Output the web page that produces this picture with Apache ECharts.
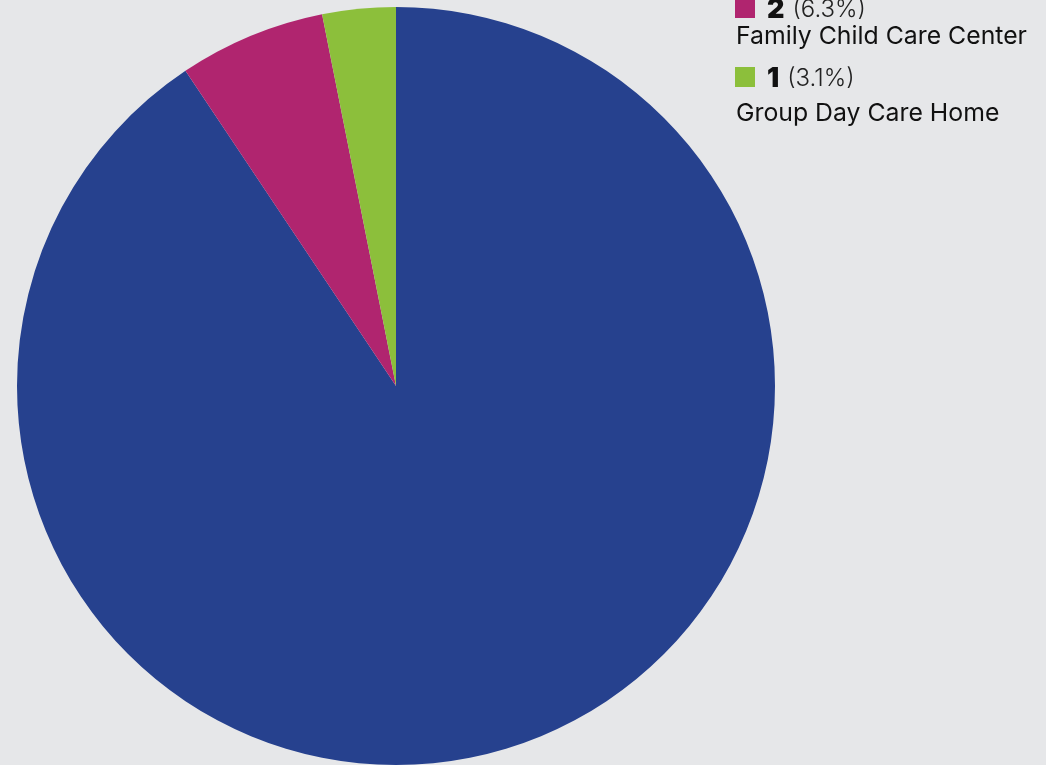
<!DOCTYPE html>
<html><head><meta charset="utf-8">
<script src="https://cdn.jsdelivr.net/npm/echarts@6/dist/echarts.min.js"></script>
<style>html,body{margin:0;padding:0;background:#e6e7e9;}#c{width:1046px;height:765px;}</style>
</head><body><div id="c"></div>
<script>
const categories = ["Child Care Center", "Family Child Care Center", "Group Day Care Home"];
const values = [29, 2, 1];
const colors = ["#26418e", "#b0256f", "#8cbf3b"];

const total = values.reduce((a, b) => a + b, 0);
const chart = echarts.init(document.getElementById('c'));

const squareTops = [-73, -2, 67];
const nameCenters = [-35, 37, 114];
const legendX = 735;
const graphics = [];
categories.forEach((name, i) => {
  const y = squareTops[i];
  graphics.push({ type: 'rect', shape: { x: legendX, y: y, width: 20, height: 20 }, style: { fill: colors[i] } });
  graphics.push({ type: 'text', x: legendX + 32, y: y + 12, style: {
    text: '{b|' + values[i] + '}{p|(' + (values[i] / total * 100).toFixed(1) + '%)}',
    verticalAlign: 'middle',
    rich: {
      b: { fontFamily: 'Inter', fontWeight: 900, fontSize: 27, fill: '#111', padding: [0, 8, 0, 0] },
      p: { fontFamily: 'Inter', fontWeight: 300, fontSize: 24, fill: '#222' }
    }
  }});
  graphics.push({ type: 'text', x: legendX + 1, y: nameCenters[i], style: {
    text: name, fontFamily: 'Inter', fontSize: 24.8, fill: '#111', verticalAlign: 'middle'
  }});
});

chart.setOption({
  backgroundColor: '#e6e7e9',
  animation: false,
  series: [{
    type: 'pie',
    center: [396, 386],
    radius: 379,
    startAngle: 90,
    clockwise: true,
    label: { show: false },
    labelLine: { show: false },
    itemStyle: { borderWidth: 0 },
    emphasis: { disabled: true },
    data: categories.map((n, i) => ({ name: n, value: values[i], itemStyle: { color: colors[i] } }))
  }],
  graphic: graphics
});
</script></body></html>
